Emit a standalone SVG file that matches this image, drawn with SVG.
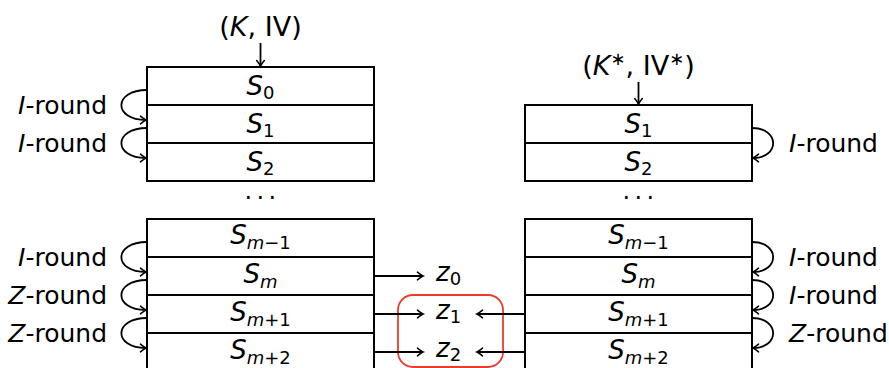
<svg xmlns="http://www.w3.org/2000/svg" width="889" height="368" viewBox="0 0 889 368">
<defs>
<marker id="ah" markerUnits="userSpaceOnUse" markerWidth="12" markerHeight="12" refX="0" refY="0" viewBox="-6 -6 12 12" orient="auto" overflow="visible">
<path d="M-5.5,-3.8 Q-1.5,-0.6 0,0 Q-1.5,0.6 -5.5,3.8" fill="none" stroke="#000" stroke-width="1.6" stroke-linecap="round"/>
</marker>
<style>
.box{fill:#fff;stroke:#000;stroke-width:2}
.t{font-family:"DejaVu Sans","Liberation Sans",sans-serif;font-size:26px;fill:#000}
.big{font-size:27px}
.lab{font-family:"DejaVu Sans","Liberation Sans",sans-serif;font-size:25px;fill:#000}
.i{font-style:italic}
.sub{font-size:18px}
.c{fill:none;stroke:#000;stroke-width:1.8;marker-end:url(#ah)}
.dots{font-family:"DejaVu Sans",sans-serif;font-size:24px;letter-spacing:4.4px}
</style>
</defs>
<rect width="889" height="368" fill="#fff"/>

<g id="in-left">
<text class="t big" x="260.5" y="36" text-anchor="middle">(<tspan class="i">K</tspan>, IV)</text>
</g>
<g id="in-right">
<text class="t big" x="638.5" y="75" text-anchor="middle">(<tspan class="i">K</tspan><tspan class="sub" dy="-10">∗</tspan><tspan dy="10">, IV</tspan><tspan class="sub" dy="-10">∗</tspan><tspan dy="10">)</tspan></text>
</g>

<g id="L-S0"><rect class="box" x="147" y="67" width="227" height="38"/><text class="t" x="260.5" y="95" text-anchor="middle"><tspan class="i">S</tspan><tspan class="sub" dy="4">0</tspan></text></g>
<g id="L-S1"><rect class="box" x="147" y="105" width="227" height="38"/><text class="t" x="260.5" y="133" text-anchor="middle"><tspan class="i">S</tspan><tspan class="sub" dy="4">1</tspan></text></g>
<g id="L-S2"><rect class="box" x="147" y="143" width="227" height="38"/><text class="t" x="260.5" y="171" text-anchor="middle"><tspan class="i">S</tspan><tspan class="sub" dy="4">2</tspan></text></g>
<g id="L-dots"><text class="dots" x="262.5" y="206" text-anchor="middle">···</text></g>
<g id="L-Sm-1"><rect class="box" x="147" y="219" width="227" height="38"/><text class="t" x="260.5" y="244" text-anchor="middle"><tspan class="i">S</tspan><tspan class="sub" dy="5"><tspan class="i">m</tspan>−1</tspan></text></g>
<g id="L-Sm"><rect class="box" x="147" y="257" width="227" height="38"/><text class="t" x="260.5" y="283" text-anchor="middle"><tspan class="i">S</tspan><tspan class="sub i" dy="5">m</tspan></text></g>
<g id="L-Sm+1"><rect class="box" x="147" y="295" width="227" height="38"/><text class="t" x="260.5" y="321" text-anchor="middle"><tspan class="i">S</tspan><tspan class="sub" dy="5"><tspan class="i">m</tspan>+1</tspan></text></g>
<g id="L-Sm+2"><rect class="box" x="147" y="333" width="227" height="38"/><text class="t" x="260.5" y="359" text-anchor="middle"><tspan class="i">S</tspan><tspan class="sub" dy="5"><tspan class="i">m</tspan>+2</tspan></text></g>

<g id="R-S1"><rect class="box" x="525" y="105" width="227" height="38"/><text class="t" x="638.5" y="133" text-anchor="middle"><tspan class="i">S</tspan><tspan class="sub" dy="4">1</tspan></text></g>
<g id="R-S2"><rect class="box" x="525" y="143" width="227" height="38"/><text class="t" x="638.5" y="171" text-anchor="middle"><tspan class="i">S</tspan><tspan class="sub" dy="4">2</tspan></text></g>
<g id="R-dots"><text class="dots" x="640.5" y="206" text-anchor="middle">···</text></g>
<g id="R-Sm-1"><rect class="box" x="525" y="219" width="227" height="38"/><text class="t" x="638.5" y="244" text-anchor="middle"><tspan class="i">S</tspan><tspan class="sub" dy="5"><tspan class="i">m</tspan>−1</tspan></text></g>
<g id="R-Sm"><rect class="box" x="525" y="257" width="227" height="38"/><text class="t" x="638.5" y="283" text-anchor="middle"><tspan class="i">S</tspan><tspan class="sub i" dy="5">m</tspan></text></g>
<g id="R-Sm+1"><rect class="box" x="525" y="295" width="227" height="38"/><text class="t" x="638.5" y="321" text-anchor="middle"><tspan class="i">S</tspan><tspan class="sub" dy="5"><tspan class="i">m</tspan>+1</tspan></text></g>
<g id="R-Sm+2"><rect class="box" x="525" y="333" width="227" height="38"/><text class="t" x="638.5" y="359" text-anchor="middle"><tspan class="i">S</tspan><tspan class="sub" dy="5"><tspan class="i">m</tspan>+2</tspan></text></g>

<g id="z0"><text class="t" x="436" y="281"><tspan class="i">z</tspan><tspan class="sub" dy="4">0</tspan></text></g>
<g id="z1"><text class="t" x="436" y="319"><tspan class="i">z</tspan><tspan class="sub" dy="4">1</tspan></text></g>
<g id="z2"><text class="t" x="436" y="357"><tspan class="i">z</tspan><tspan class="sub" dy="4">2</tspan></text></g>
<g id="highlight"><rect x="398" y="295" width="105" height="72" rx="15" fill="none" stroke="#f03a28" stroke-width="1.8"/></g>

<g id="labels">
<text class="lab" x="107" y="114" text-anchor="end"><tspan class="i">I</tspan>-round</text>
<text class="lab" x="107" y="152" text-anchor="end"><tspan class="i">I</tspan>-round</text>
<text class="lab" x="107" y="266" text-anchor="end"><tspan class="i">I</tspan>-round</text>
<text class="lab" x="107" y="304" text-anchor="end"><tspan class="i">Z</tspan>-round</text>
<text class="lab" x="107" y="342" text-anchor="end"><tspan class="i">Z</tspan>-round</text>
<text class="lab" x="789" y="152"><tspan class="i">I</tspan>-round</text>
<text class="lab" x="789" y="266"><tspan class="i">I</tspan>-round</text>
<text class="lab" x="789" y="304"><tspan class="i">I</tspan>-round</text>
<text class="lab" x="789" y="342"><tspan class="i">Z</tspan>-round</text>
</g>

<g id="connectors">
<path class="c" d="M260.5,43 V66"/>
<path class="c" d="M638.5,82 V104"/>
<path class="c" d="M147,90 C113,90 113,120 146,120"/>
<path class="c" d="M147,128 C113,128 113,158 146,158"/>
<path class="c" d="M147,242 C113,242 113,272 146,272"/>
<path class="c" d="M147,280 C113,280 113,310 146,310"/>
<path class="c" d="M147,318 C113,318 113,348 146,348"/>
<path class="c" d="M752,128 C780,128 780,158 753,158"/>
<path class="c" d="M752,242 C780,242 780,272 753,272"/>
<path class="c" d="M752,280 C780,280 780,310 753,310"/>
<path class="c" d="M752,318 C780,318 780,348 753,348"/>
<path class="c" d="M374,276 H423"/>
<path class="c" d="M374,314 H423"/>
<path class="c" d="M374,352 H423"/>
<path class="c" d="M525,314 H477"/>
<path class="c" d="M525,352 H477"/>
</g>
</svg>
